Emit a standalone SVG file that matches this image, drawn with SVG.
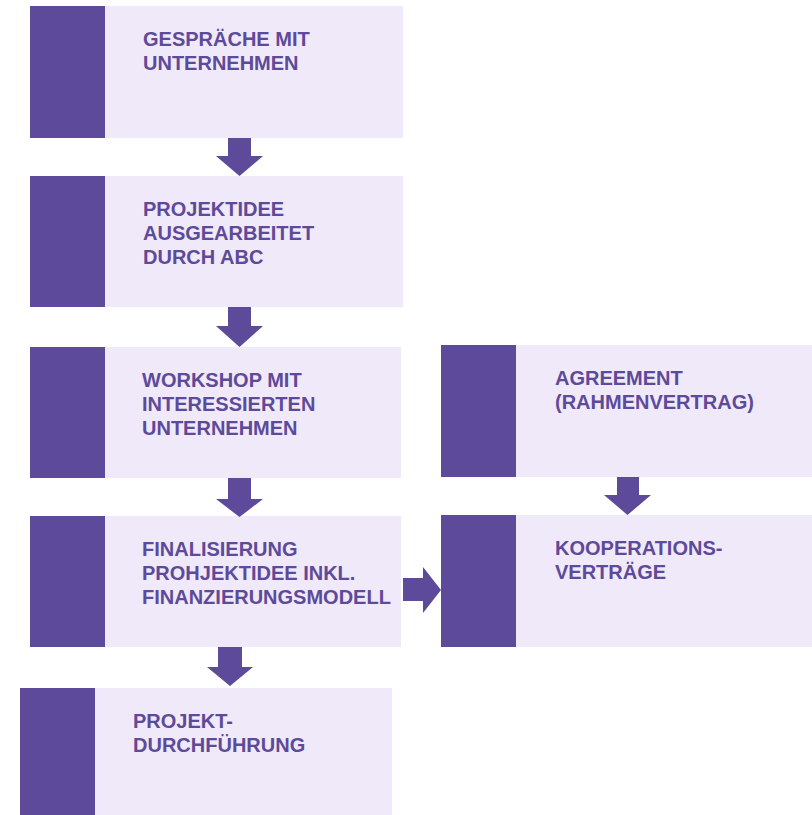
<svg xmlns="http://www.w3.org/2000/svg" width="812" height="815" viewBox="0 0 812 815">
<style>
.bg{fill:#F0E9F9}
.bar{fill:#5D4A9A}
.arr{fill:#5D4A9A}
text{font-family:"Liberation Sans",Arial,sans-serif;font-weight:bold;font-size:20px;fill:#5D4A9A}
</style>
<rect width="812" height="815" fill="#FFFFFF"/>
<g id="n1"><rect class="bg" x="30" y="6" width="373" height="132"/><rect class="bar" x="30" y="6" width="75" height="132"/><text x="143" y="46">GESPRÄCHE MIT</text><text x="143" y="70">UNTERNEHMEN</text></g>
<g id="n2"><rect class="bg" x="30" y="176" width="373" height="131"/><rect class="bar" x="30" y="176" width="75" height="131"/><text x="143" y="216">PROJEKTIDEE</text><text x="143" y="240">AUSGEARBEITET</text><text x="143" y="264">DURCH ABC</text></g>
<g id="n3"><rect class="bg" x="30" y="347" width="371" height="131"/><rect class="bar" x="30" y="347" width="75" height="131"/><text x="142" y="387">WORKSHOP MIT</text><text x="142" y="411">INTERESSIERTEN</text><text x="142" y="435">UNTERNEHMEN</text></g>
<g id="n4"><rect class="bg" x="30" y="516" width="371" height="131"/><rect class="bar" x="30" y="516" width="75" height="131"/><text x="142" y="556">FINALISIERUNG</text><text x="142" y="580">PROHJEKTIDEE INKL.</text><text x="142" y="604">FINANZIERUNGSMODELL</text></g>
<g id="n5"><rect class="bg" x="20" y="688" width="372" height="127"/><rect class="bar" x="20" y="688" width="75" height="127"/><text x="133" y="728">PROJEKT-</text><text x="133" y="752">DURCHFÜHRUNG</text></g>
<g id="n6"><rect class="bg" x="441" y="345" width="371" height="132"/><rect class="bar" x="441" y="345" width="75" height="132"/><text x="555" y="385">AGREEMENT</text><text x="555" y="409">(RAHMENVERTRAG)</text></g>
<g id="n7"><rect class="bg" x="441" y="515" width="371" height="132"/><rect class="bar" x="441" y="515" width="75" height="132"/><text x="555" y="555">KOOPERATIONS-</text><text x="555" y="579">VERTRÄGE</text></g>
<g id="connectors">
<polygon class="arr" points="228,138 251,138 251,156 263,156 239.5,176 216,156 228,156"/>
<polygon class="arr" points="228,307 251,307 251,326 263,326 239.5,347 216,326 228,326"/>
<polygon class="arr" points="228,478 251,478 251,499 263,499 239.5,517 216,499 228,499"/>
<polygon class="arr" points="218,647 242,647 242,667 253,667 230,686 207,667 218,667"/>
<polygon class="arr" points="617,477 639,477 639,495 651,495 627.5,515 604,495 617,495"/>
<polygon class="arr" points="403,578 423,578 423,567 441,590 423,613 423,601 403,601"/>
</g>
</svg>
